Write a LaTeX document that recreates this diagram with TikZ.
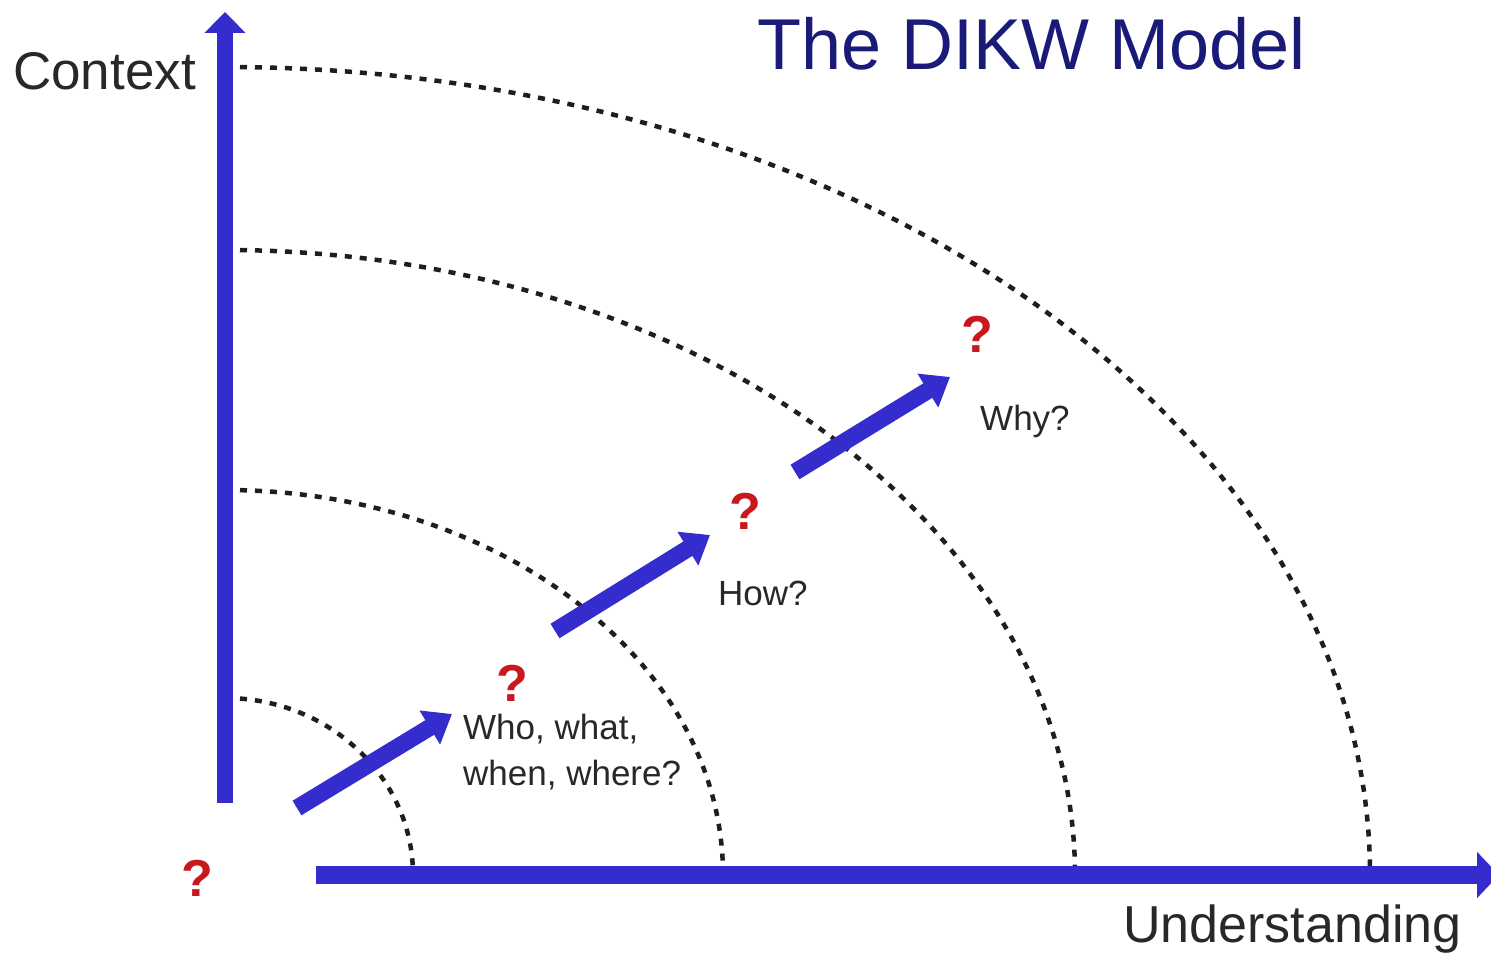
\documentclass[tikz,border=0pt]{standalone}
\usepackage{fontspec}
\setmainfont{Liberation Sans}
\usetikzlibrary{arrows.meta}
\definecolor{axisblue}{RGB}{52,44,204}
\definecolor{qred}{RGB}{200,24,30}
\definecolor{titleblue}{RGB}{26,26,120}
\definecolor{inkgray}{RGB}{40,40,40}
\definecolor{dotgray}{RGB}{30,30,30}
\begin{document}
\begin{tikzpicture}[x=1pt,y=-1pt,
  ring/.style={dotgray, line width=4.5pt, dash pattern=on 7pt off 8pt},
  axisline/.style={axisblue, line width=16pt, -{Triangle[width=40pt,length=21pt]}},
  stage/.style={axisblue, line width=17pt, -{Triangle[width=38pt,length=26pt]}},
  qmark/.style={qred, inner sep=0, font=\fontsize{52}{52}\selectfont\bfseries},
  cue/.style={inkgray, inner sep=0, anchor=base west, font=\fontsize{35}{46}\selectfont},
  axisname/.style={inkgray, inner sep=0, anchor=base west, font=\fontsize{52}{60}\selectfont}
]
\useasboundingbox (0,0) rectangle (1491,957);
\fill[white] (0,0) rectangle (1491,957);

% origin of the axes
\coordinate (O) at (225,875);

% dotted quarter-ellipses, one per level
\draw[ring] (225,698) arc[start angle=-90, end angle=0, x radius=188, y radius=177];
\draw[ring] (225,490) arc[start angle=-90, end angle=0, x radius=498, y radius=385];
\draw[ring] (225,250) arc[start angle=-90, end angle=0, x radius=850, y radius=625];
\draw[ring] (225,67)  arc[start angle=-90, end angle=0, x radius=1145, y radius=808];

% axes
\coordinate (ybot) at (225,803);
\coordinate (ytop) at (225,12);
\coordinate (xleft) at (316,875);
\coordinate (xright) at (1499,875);
\draw[axisline] (ybot) -- (ytop);
\draw[axisline, line width=18pt, -{Triangle[width=45pt,length=22pt]}] (xleft) -- (xright);

% axis names and title
\node[axisname, font=\fontsize{53}{60}\selectfont] (ctx) at (13,90) {Context};
\node[axisname] (und) at (1123,942) {Understanding};
\node[titleblue, inner sep=0, anchor=base west, font=\fontsize{72}{80}\selectfont] (title) at (757,70) {The DIKW Model};

% question marks
\node[qmark] (q0) at (197,878) {?};
\node[qmark] (q1) at (512,683) {?};
\node[qmark] (q2) at (745,511) {?};
\node[qmark] (q3) at (977,334) {?};

% stage arrows
\coordinate (a1s) at (297,808);
\coordinate (a1e) at (452,714);
\coordinate (a2s) at (555,631);
\coordinate (a2e) at (710,535);
\coordinate (a3s) at (795,472);
\coordinate (a3e) at (950,377);
\draw[stage] (a1s) -- (a1e);
\draw[stage] (a2s) -- (a2e);
\draw[stage] (a3s) -- (a3e);

% question labels (base anchor of a two-line node sits on its last line)
\node[cue, align=left] (who) at (463,785) {Who, what,\\when, where?};
\node[cue] (how) at (718,605) {How?};
\node[cue] (why) at (980,430) {Why?};
\end{tikzpicture}
\end{document}
